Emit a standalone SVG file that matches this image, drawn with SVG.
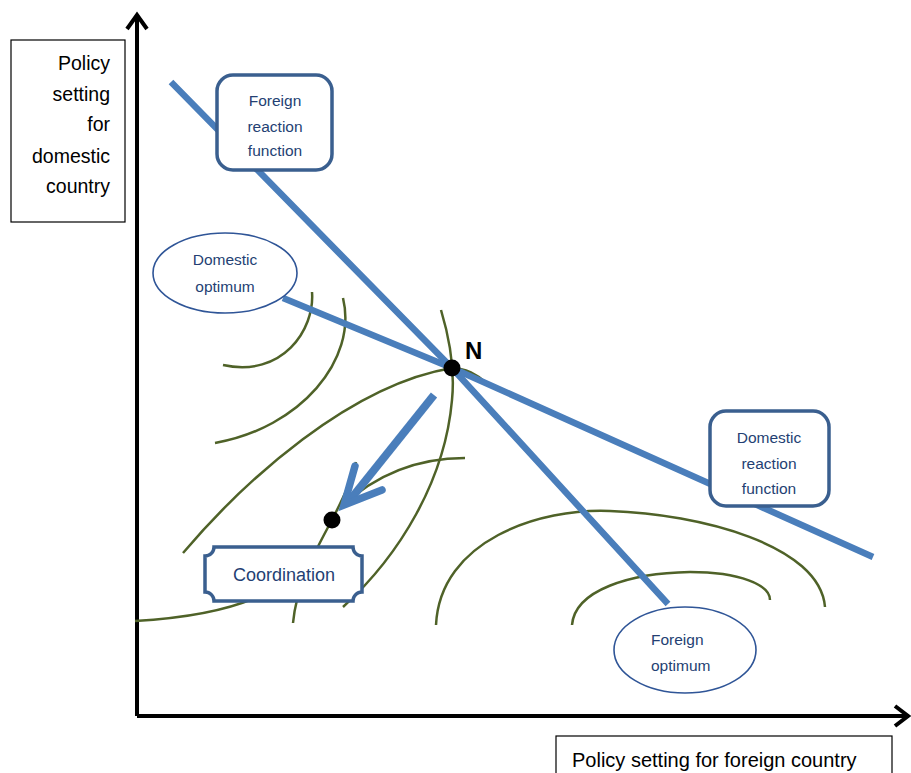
<svg xmlns="http://www.w3.org/2000/svg" width="911" height="773" viewBox="0 0 911 773">
<style>
.lbl{font-family:"Liberation Sans",Arial,sans-serif;fill:#000;font-size:19.5px}
.nt{font-family:"Liberation Sans",Arial,sans-serif;fill:#243f73;font-size:15.5px;text-anchor:middle}
.box{fill:#fff;stroke:#3a5f8f;stroke-width:3.5}
.ell{fill:#fff;stroke:#2f5597;stroke-width:1.6}
.rf{fill:none;stroke:#4a7ebb;stroke-width:6.5}
.ic{fill:none;stroke:#4f6228;stroke-width:2.5}
.ax{fill:none;stroke:#000;stroke-width:4}
</style>
<rect width="911" height="773" fill="#fff"/>
<g id="axes">
<path class="ax" d="M137,716 V15 M127,29 L137,15 L147,29"/>
<path class="ax" d="M137,716 H907 M895,706 L908,716 L895,726"/>
</g>
<g id="y-label">
<rect x="11" y="40" width="114" height="182" fill="#fff" stroke="#000" stroke-width="1.2"/>
<text class="lbl" text-anchor="end" x="110"><tspan x="110" y="70">Policy</tspan><tspan x="110" y="101">setting</tspan><tspan x="110" y="131">for</tspan><tspan x="110" y="163">domestic</tspan><tspan x="110" y="193">country</tspan></text>
</g>
<g id="x-label">
<rect x="556" y="736" width="336" height="45" fill="#fff" stroke="#000" stroke-width="1.2"/>
<text class="lbl" x="572" y="767" style="font-size:20px">Policy setting for foreign country</text>
</g>
<g id="connectors">
<path class="ic" d="M312,292 C315,330 282,378 223,365"/>
<path class="ic" d="M343,298 C358,360 300,428 215,443"/>
<path class="ic" d="M183,553 C245,480 350,385 452,368 C465,368 478,375 486,383"/>
<path class="ic" d="M441,310 C450,340 455,370 452,400 C445,480 400,555 343,607"/>
<path class="ic" d="M135,621 C190,618 230,610 262,595"/>
<path class="ic" d="M293,623 C296,590 310,560 332,520 C342,500 350,485 356,462"/>
<path class="ic" d="M341,507 C370,480 410,458 465,458"/>
<path class="ic" d="M436,625 C440,540 540,508 610,511 C700,514 820,545 825,607"/>
<path class="ic" d="M572,625 C575,590 630,573 690,572 C740,572 770,585 770,600"/>
<path class="rf" d="M171,82 L452,368 L668,604"/>
<path class="rf" d="M283,298 L452,368 L873,557"/>
<path fill="none" stroke="#4a7ebb" stroke-width="8" d="M434,395 L350,500"/>
<path fill="none" stroke="#4a7ebb" stroke-width="7.5" stroke-linecap="round" stroke-linejoin="miter" d="M355,466 L344,505 L382,490"/>
</g>
<g id="foreign-reaction">
<rect class="box" x="217" y="75" width="115" height="95" rx="16"/>
<text class="nt"><tspan x="275" y="106">Foreign</tspan><tspan x="275" y="132">reaction</tspan><tspan x="275" y="156">function</tspan></text>
</g>
<g id="domestic-optimum">
<ellipse class="ell" cx="225" cy="273" rx="72" ry="40"/>
<text class="nt"><tspan x="225" y="265">Domestic</tspan><tspan x="225" y="292">optimum</tspan></text>
</g>
<g id="domestic-reaction">
<rect class="box" x="710" y="411" width="119" height="95" rx="16"/>
<text class="nt"><tspan x="769" y="443">Domestic</tspan><tspan x="769" y="469">reaction</tspan><tspan x="769" y="494">function</tspan></text>
</g>
<g id="foreign-optimum">
<ellipse class="ell" cx="685" cy="650" rx="71" ry="43"/>
<text class="nt" style="text-anchor:start"><tspan x="651" y="645">Foreign</tspan><tspan x="651" y="671">optimum</tspan></text>
</g>
<g id="N">
<circle cx="452" cy="368" r="8.5" fill="#000"/>
<text x="465" y="359" font-family="Liberation Sans,Arial,sans-serif" font-weight="bold" font-size="24" fill="#000">N</text>
</g>
<g id="coordination-point">
<circle cx="332" cy="520" r="8.5" fill="#000"/>
</g>
<g id="coordination">
<path class="box" d="M214,547 H353 A9,9 0 0 0 362,556 V592 A9,9 0 0 0 353,601 H214 A9,9 0 0 0 205,592 V556 A9,9 0 0 0 214,547 Z"/>
<text class="nt" x="284" y="581" style="font-size:18px">Coordination</text>
</g>
</svg>
